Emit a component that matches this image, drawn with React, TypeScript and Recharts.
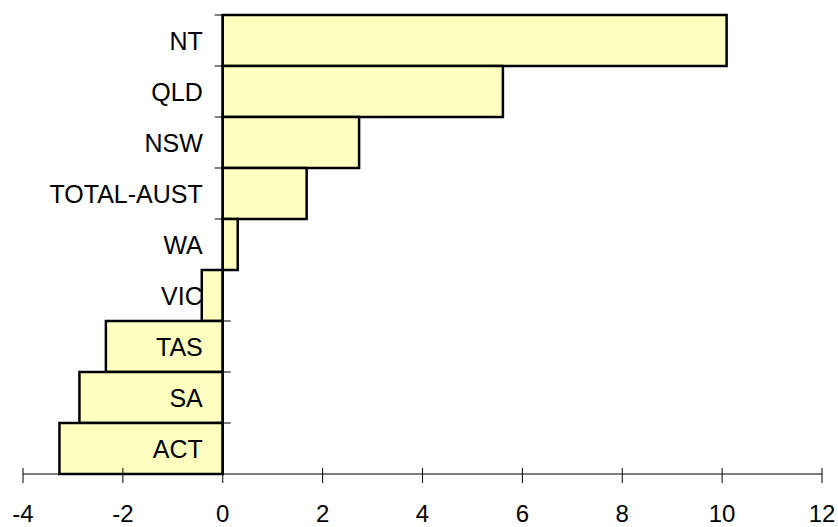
import { Bar, BarChart, LabelList, ReferenceLine, XAxis, YAxis } from 'recharts'

const regions = ['NT', 'QLD', 'NSW', 'TOTAL-AUST', 'WA', 'VIC', 'TAS', 'SA', 'ACT']
const changes = [10.09, 5.61, 2.73, 1.68, 0.3, -0.42, -2.34, -2.87, -3.27]
const xTicks = [-4, -2, 0, 2, 4, 6, 8, 10, 12]

const data = regions.map((name, i) => ({ name, value: changes[i] }))

const FONT = '"Liberation Sans", Arial, sans-serif'

// x axis tick: cross-shaped tick mark plus label
function XTick(props: any) {
  const { x, y, payload } = props
  const axisY = y - 34
  return (
    <g>
      <line x1={x} x2={x} y1={axisY - 6} y2={axisY + 9} stroke="#000" strokeWidth={1} />
      <text
        x={x}
        y={axisY + 47.5}
        textAnchor="middle"
        fontFamily={FONT}
        fontSize={24}
        fill="#000"
      >
        {payload.value}
      </text>
    </g>
  )
}

// category label + tick mark drawn at the zero line
function CategoryLabel(props: any) {
  const { x, y, width, height, value, index } = props
  const lo = Math.min(x, x + width)
  const hi = Math.max(x, x + width)
  const zero = value >= 0 ? lo : hi
  return (
    <g>
      <line x1={zero - 8} x2={zero + 8} y1={y} y2={y} stroke="#000" strokeWidth={1} />
      <text
        x={zero - 20}
        y={y + height / 2 + 9}
        textAnchor="end"
        fontFamily={FONT}
        fontSize={25}
        fill="#000"
      >
        {regions[index]}
      </text>
    </g>
  )
}

export default function App() {
  return (
    <div style={{ position: 'absolute', left: 0, top: 0, background: '#fff' }}>
      <BarChart
        width={838}
        height={527}
        data={data}
        layout="vertical"
        barCategoryGap={0}
        margin={{ top: 15, right: 16, bottom: 0, left: 23 }}
      >
        <XAxis
          type="number"
          domain={[-4, 12]}
          ticks={xTicks}
          interval={0}
          height={53}
          tickSize={0}
          tickMargin={34}
          tickLine={false}
          axisLine={{ stroke: '#000', strokeWidth: 1 }}
          tick={<XTick />}
        />
        <YAxis type="category" dataKey="name" hide width={0} />
        <Bar
          dataKey="value"
          fill="#FFFFC0"
          stroke="#000"
          strokeWidth={2.5}
          isAnimationActive={false}
        >
          <LabelList dataKey="value" content={<CategoryLabel />} />
        </Bar>
        <ReferenceLine x={0} stroke="#000" strokeWidth={2.5} />
      </BarChart>
    </div>
  )
}
